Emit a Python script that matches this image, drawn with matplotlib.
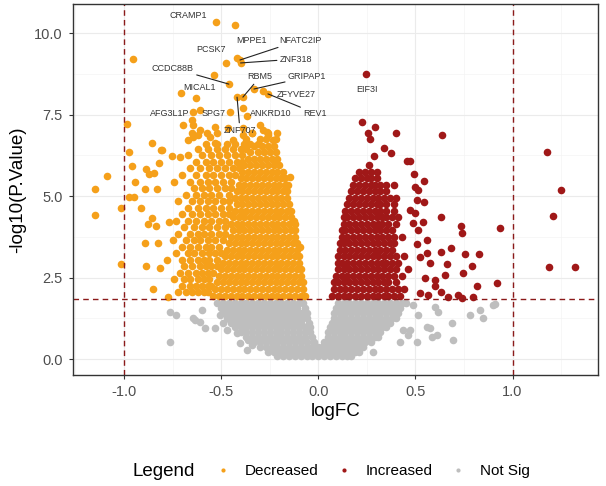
import matplotlib

matplotlib.use('Agg')

import matplotlib.pyplot as plt
from matplotlib.lines import Line2D
from matplotlib.ticker import MultipleLocator, FormatStrFormatter

plt.rcParams['font.family'] = ['Liberation Sans', 'DejaVu Sans']

# ---- data: logFC (x, in hundredths per row) and -log10(P.Value) (row y) ----
# dense part of the down-regulated genes
down_rows = [
    (1.95, "-54 -51 -48 -45 -42 -39 -36 -33 -30 -27 -24 -21 -18 -15 -12 -9 -7"),
    (2.15, "-53 -50 -47 -44 -41 -38 -35 -32 -29 -26 -23 -20 -17 -14 -11 -8"),
    (2.35, "-52 -49 -46 -43 -40 -37 -34 -31 -28 -25 -22 -19 -16 -13 -10 -8"),
    (2.55, "-51 -48 -45 -42 -39 -36 -33 -30 -27 -24 -21 -18 -15 -12 -9"),
    (2.75, "-50 -47 -44 -41 -38 -35 -32 -29 -26 -23 -20 -17 -14 -11 -9"),
    (2.95, "-49 -46 -43 -40 -37 -34 -31 -28 -25 -22 -19 -16 -13 -10"),
    (3.15, "-48 -45 -42 -39 -36 -33 -30 -27 -24 -21 -18 -15 -12 -10"),
    (3.35, "-47 -44 -41 -38 -35 -32 -29 -26 -23 -20 -17 -14 -11"),
    (3.55, "-46 -43 -40 -37 -34 -31 -28 -25 -22 -19 -16 -13 -11"),
    (3.75, "-45 -42 -39 -36 -33 -30 -27 -24 -21 -18 -15 -12"),
    (3.95, "-44 -41 -38 -35 -32 -29 -26 -23 -20 -17 -14 -12"),
    (4.15, "-45 -42 -39 -36 -33 -30 -27 -24 -21 -18 -15 -12"),
    (4.35, "-44 -41 -38 -35 -32 -29 -26 -23 -20 -17 -14"),
    (4.55, "-43 -40 -37 -34 -31 -28 -25 -22 -19 -16 -14"),
    (4.75, "-42 -39 -36 -33 -30 -27 -24 -21 -18 -15"),
    (4.95, "-43 -40 -37 -34 -31 -28 -25 -22 -19 -16"),
    (5.15, "-42 -39 -36 -33 -30 -27 -24 -21 -18 -16"),
    (5.35, "-41 -38 -35 -32 -29 -26 -23 -20 -17"),
    (5.55, "-40 -37 -34 -31 -28 -25 -22 -19 -17"),
    (5.75, "-39 -36 -33 -30 -27 -24 -21 -18"),
    (5.95, "-38 -35 -32 -29 -26 -23 -20"),
    (6.15, "-36 -33 -30 -27 -24 -21"),
    (6.35, "-35 -31 -28 -25 -22"),
    (6.55, "-33 -29 -26 -23"),
    (6.75, "-37 -30 -27 -22"),
    (6.95, "-34 -26 -21"),
]
down_sparse_rows = [
    (2.05, "-72 -68 -65 -62 -59 -57"),
    (2.25, "-70 -66 -63 -60 -57 -55"),
    (2.45, "-74 -69 -66 -62 -59 -56"),
    (2.65, "-71 -67 -63 -60 -57 -54"),
    (2.85, "-69 -65 -61 -58 -55 -52"),
    (3.05, "-78 -70 -66 -62 -59 -56 -52"),
    (3.25, "-73 -67 -64 -60 -56 -53 -50"),
    (3.45, "-70 -66 -62 -58 -55 -51"),
    (3.65, "-75 -68 -64 -61 -57 -53 -49"),
    (3.85, "-72 -66 -62 -59 -55 -51 -48"),
    (4.05, "-69 -64 -60 -56 -52 -48"),
    (4.25, "-73 -67 -63 -59 -55 -51 -48"),
    (4.45, "-70 -65 -61 -57 -53 -49 -46"),
    (4.65, "-67 -62 -58 -54 -50 -46"),
    (4.85, "-72 -65 -61 -57 -53 -49 -46"),
    (5.05, "-68 -63 -59 -55 -51 -46"),
    (5.25, "-64 -60 -56 -52 -48 -45"),
    (5.45, "-74 -66 -61 -57 -53 -49 -45"),
    (5.65, "-70 -63 -58 -54 -50 -46 -43"),
    (5.85, "-66 -61 -56 -52 -48 -44 -41"),
    (6.05, "-63 -58 -54 -50 -46 -42 -39"),
    (6.25, "-67 -60 -55 -51 -47 -43 -39"),
    (6.45, "-62 -57 -52 -48 -44 -40 -37"),
    (6.60, "-58 -52 -47 -43 -38 -35 -31"),
]
down_fc = [-0.985, -0.856, -0.974, -0.810, -1.087, -1.149, -1.149, -0.959, -0.887, -0.820,
           -0.871, -0.846, -0.943, -0.892, -0.830, -0.974, -0.948, -1.015, -0.912, -0.856,
           -0.877, -0.835, -0.768, -0.892, -0.825, -0.887, -1.015, -0.815, -0.851, -0.954,
           -0.773, -0.650, -0.696, -0.465, -0.367, -0.805, -0.753, -0.712, -0.671, -0.650,
           -0.619, -0.573, -0.532, -0.521, -0.439, -0.388, -0.341, -0.259, -0.233, -0.285,
           -0.609, -0.645, -0.609, -0.532, -0.388, -0.300, -0.264, -0.645, -0.557, -0.429,
           -0.537, -0.707, -0.146, -0.155, -0.124, -0.094]
down_p = [7.22, 6.63, 6.36, 6.42, 5.62, 5.22, 4.42, 5.93, 5.83, 6.02,
          5.68, 5.71, 5.43, 5.22, 5.22, 4.97, 4.97, 4.64, 4.64, 4.33,
          4.14, 4.08, 4.21, 3.56, 3.56, 2.86, 2.92, 2.79, 2.15, 9.21,
          1.90, 7.34, 7.19, 7.09, 7.46, 6.42, 6.23, 6.20, 6.72, 6.94,
          6.88, 6.94, 6.63, 6.94, 6.72, 6.88, 6.94, 6.88, 6.72, 7.03,
          7.65, 7.18, 7.03, 7.12, 7.09, 7.18, 6.97, 6.82, 6.82, 10.25,
          8.72, 8.17, 5.60, 5.34, 4.24, 3.44]

# dense part of the up-regulated genes
up_rows = [
    (1.95, "7 10 13 16 19 22 25 28 31 34 36 39 42"),
    (2.15, "8 11 14 17 20 23 26 29 32 35 38 41 44"),
    (2.35, "8 10 13 16 19 22 25 28 31 34 36 40"),
    (2.55, "9 12 15 18 21 24 27 30 33 36 39 43"),
    (2.75, "10 13 16 19 22 25 28 31 34 37 40 46"),
    (2.95, "10 12 15 18 21 24 27 30 33 35 38 41"),
    (3.15, "10 13 16 19 22 25 28 31 34 37 40 44"),
    (3.35, "11 14 17 20 23 26 29 32 35 38"),
    (3.55, "11 13 16 19 22 25 28 31 34 37 39"),
    (3.75, "12 15 18 21 24 27 30 33 36 39 43"),
    (3.95, "12 14 17 20 23 26 29 32 35 38"),
    (4.15, "13 16 19 22 25 28 31 33 36 40"),
    (4.35, "13 15 18 21 24 27 30 33 35 38 41"),
    (4.55, "14 17 20 23 26 29 32 35 39"),
    (4.75, "15 18 21 24 27 30 32 35 39"),
    (4.95, "16 19 22 25 28 31 34 37 40"),
    (5.15, "17 20 23 26 29 32 35"),
    (5.35, "18 21 24 27 29 32 35 39"),
    (5.55, "19 22 25 27 30"),
    (5.75, "21 24 27 30"),
]
up_fc = [0.225, 0.292, 0.256, 0.266, 0.400, 0.637, 0.338, 0.374, 0.287, 0.261,
         0.456, 0.472, 0.493, 0.544, 0.498, 0.513, 0.508, 0.544, 0.472, 0.498,
         0.539, 0.487, 0.632, 0.734, 0.740, 0.935, 0.513, 0.559, 0.508, 0.683,
         0.632, 0.755, 0.827, 0.559, 0.523, 0.575, 0.662, 0.791, 0.745, 0.652,
         0.549, 0.600, 0.817, 0.920, 0.600, 0.632, 0.667, 0.719, 0.740, 0.796,
         0.523, 0.565, 1.177, 1.249, 1.208, 1.187, 1.321]
up_p = [7.28, 7.12, 6.94, 6.75, 6.94, 6.88, 6.48, 6.32, 6.23, 5.96,
        6.08, 6.08, 5.68, 5.47, 5.28, 5.19, 4.88, 4.82, 4.57, 4.48,
        4.21, 4.18, 4.36, 4.08, 3.87, 4.02, 3.96, 3.65, 3.53, 3.41,
        3.29, 3.22, 3.22, 3.25, 3.13, 2.95, 2.92, 2.86, 2.64, 2.58,
        2.49, 2.43, 2.24, 2.33, 2.24, 2.06, 1.90, 1.96, 1.88, 1.90,
        2.03, 1.96, 6.36, 5.19, 4.39, 2.82, 2.82]

# genes below the significance line
ns_rows = [
    (1.72, "-52 -49 -46 -43 -40 -37 -34 -31 -28 -25 -22 -19 -16 -13 -10 -8 10 13 16 19 22 25 28 31 34 37 40 43 45"),
    (1.57, "-50 -47 -44 -41 -38 -35 -32 -29 -26 -23 -20 -17 -14 -11 -7 9 12 15 18 21 24 27 30 33 36 39 42"),
    (1.42, "-48 -45 -42 -39 -36 -33 -30 -27 -24 -21 -18 -15 -12 -9 -6 8 11 14 17 20 23 26 29 32 35 38 41"),
    (1.27, "-47 -44 -41 -38 -35 -32 -29 -26 -23 -20 -17 -14 -11 -8 -6 8 11 14 17 20 23 26 29 32 35 38 40"),
    (1.12, "-45 -42 -39 -36 -33 -30 -27 -24 -21 -18 -15 -12 -9 -5 7 10 13 16 19 22 25 28 31 34 37"),
    (0.97, "-43 -40 -37 -34 -31 -28 -25 -22 -19 -16 -13 -10 -7 -4 6 9 12 15 18 21 24 27 30 33 35"),
    (0.82, "-40 -37 -34 -31 -28 -25 -22 -19 -16 -13 -10 -7 -4 5 8 11 14 17 20 23 26 29 32"),
    (0.67, "-37 -34 -31 -28 -25 -22 -19 -16 -13 -10 -7 -3 5 8 11 14 17 20 23 26 29 31"),
    (0.52, "-33 -30 -27 -24 -21 -18 -15 -12 -9 -6 -2 3 6 9 12 15 18 21 24 27"),
    (0.37, "-30 -27 -24 -21 -18 -15 -12 -9 -6 -3 0 2 5 8 11 14 17 20 23"),
    (0.22, "-26 -23 -20 -17 -14 -11 -8 -5 -2 1 4 7 10 13 16 19 21"),
    (0.08, "-21 -18 -15 -12 -9 -6 -3 0 3 6 9 12 15 17"),
]
ns_fc = [-0.763, -0.733, -0.763, -0.645, -0.599, -0.583, -0.532, -0.506, -0.470, -0.367,
         -0.341, -0.635, -0.609, -0.490, -0.454, -0.418, -0.403, -0.362, 0.616, 0.688,
         0.693, 0.781, 0.847, 0.909, 0.575, 0.472, 0.420, 0.282, 0.611, 0.487,
         0.600, 0.513, 0.559, 0.508, 0.585, 0.832, 0.900, 0.436, 0.462]
ns_p = [1.44, 1.35, 0.52, 1.26, 1.50, 0.95, 0.95, 1.35, 0.89, 0.28,
        0.43, 1.20, 1.14, 1.10, 1.20, 0.80, 0.49, 0.58, 1.44, 1.10,
        0.58, 1.35, 1.26, 1.69, 0.95, 0.89, 0.52, 0.21, 0.74, 1.66,
        1.60, 1.35, 0.98, 0.52, 0.68, 1.50, 1.66, 0.89, 0.74]

# labelled top genes
genes = ['CRAMP1', 'PCSK7', 'MPPE1', 'NFATC2IP', 'ZNF318', 'CCDC88B', 'MICAL1', 'RBM5',
         'GRIPAP1', 'ZFYVE27', 'REV1', 'ANKRD10', 'AFG3L1P', 'SPG7', 'ZNF707', 'EIF3I']
genes_fc = [-0.527, -0.475, -0.418, -0.403, -0.400, -0.460, -0.630, -0.388,
            -0.331, -0.285, -0.259, -0.388, -0.645, -0.454, -0.418, 0.245]
genes_p = [10.35, 9.09, 9.24, 9.18, 9.09, 8.44, 8.01, 8.04,
           8.29, 8.23, 8.14, 7.71, 7.58, 7.58, 8.04, 8.75]

p_cut = 1.84
fc_cut = 1.0

# where the gene names sit, and which ones get a connector
label_pos = {
    'CRAMP1': (-0.671, 10.56), 'PCSK7': (-0.552, 9.49), 'MPPE1': (-0.346, 9.79),
    'NFATC2IP': (-0.094, 9.79), 'ZNF318': (-0.115, 9.21), 'CCDC88B': (-0.748, 8.93),
    'MICAL1': (-0.609, 8.35), 'RBM5': (-0.300, 8.66), 'GRIPAP1': (-0.058, 8.66),
    'ZFYVE27': (-0.115, 8.11), 'REV1': (-0.017, 7.55), 'ANKRD10': (-0.243, 7.55),
    'AFG3L1P': (-0.763, 7.55), 'SPG7': (-0.537, 7.55), 'ZNF707': (-0.403, 7.03),
    'EIF3I': (0.250, 8.26),
}
with_segment = {'NFATC2IP', 'ZNF318', 'CCDC88B', 'RBM5', 'GRIPAP1', 'REV1', 'ZNF707'}

ORANGE = '#F5A01A'
RED = '#A01818'
GREY = '#BEBEBE'
CUTCOL = '#8B1A1A'


def rows_to_xy(rows):
    xs, ys = [], []
    for y, line in rows:
        for v in line.split():
            xs.append(float(v) / 100)
            ys.append(y)
    return xs, ys


fig = plt.figure(figsize=(6.06, 4.86), dpi=100)
ax = fig.add_axes([72.7 / 606, 1 - 375 / 486, (598 - 72.7) / 606, (375 - 4) / 486])

ax.xaxis.set_major_locator(MultipleLocator(0.5))
ax.xaxis.set_minor_locator(MultipleLocator(0.25))
ax.yaxis.set_major_locator(MultipleLocator(2.5))
ax.yaxis.set_minor_locator(MultipleLocator(1.25))
ax.xaxis.set_major_formatter(FormatStrFormatter('%.1f'))
ax.yaxis.set_major_formatter(FormatStrFormatter('%.1f'))
ax.grid(which='major', color='#EBEBEB', linewidth=0.8)
ax.grid(which='minor', color='#F4F4F4', linewidth=0.5)
ax.set_axisbelow(True)

pt = dict(s=30, linewidths=0)
x, y = rows_to_xy(ns_rows)
ax.scatter(x + ns_fc, y + ns_p, color=GREY, **pt)
x, y = rows_to_xy(down_rows + down_sparse_rows)
ax.scatter(x + down_fc + genes_fc[:-1], y + down_p + genes_p[:-1], color=ORANGE, **pt)
x, y = rows_to_xy(up_rows)
ax.scatter(x + up_fc + genes_fc[-1:], y + up_p + genes_p[-1:], color=RED, **pt)

ax.axvline(-fc_cut, color=CUTCOL, ls=(0, (4, 3)), lw=1.0)
ax.axvline(fc_cut, color=CUTCOL, ls=(0, (4, 3)), lw=1.0)
ax.axhline(p_cut, color=CUTCOL, ls=(0, (4, 3)), lw=1.0)

for g, gx, gy in zip(genes, genes_fc, genes_p):
    tx, ty = label_pos[g]
    if g in with_segment:
        ax.annotate(g, xy=(gx, gy), xytext=(tx, ty), ha='center', va='center',
                    fontsize=6.5, color='#333333',
                    arrowprops=dict(arrowstyle='-', color='#222222', lw=0.8,
                                    shrinkA=0, shrinkB=0))
    else:
        ax.text(tx, ty, g, ha='center', va='center', fontsize=6.5, color='#333333')

ax.set_xlim(-1.264, 1.44)
ax.set_ylim(-0.49, 10.9)

for s in ax.spines.values():
    s.set_color('#333333')
    s.set_linewidth(1.0)
ax.tick_params(which='major', direction='out', length=3, width=0.8, color='#333333',
               labelcolor='#4D4D4D', labelsize=10.5, pad=4)
ax.tick_params(which='minor', length=0)

ax.set_xlabel('logFC', fontsize=13.5, labelpad=3)
ax.set_ylabel('-log10(P.Value)', fontsize=13.5, labelpad=6)

handles = [Line2D([], [], ls='none', marker='o', markersize=3, color=c, markeredgewidth=0)
           for c in (ORANGE, RED, GREY)]
fig.text(133 / 606, 1 - 471 / 486, 'Legend', fontsize=13.5, ha='left', va='center')
fig.legend(handles, ['Decreased', 'Increased', 'Not Sig'], loc='center left',
           bbox_to_anchor=(219 / 606, 1 - 471 / 486), ncol=3, frameon=False,
           fontsize=11, handlelength=0.5, handletextpad=1.2, columnspacing=1.4,
           borderpad=0, borderaxespad=0)

plt.savefig('out.png', dpi=100)
plt.close(fig)
